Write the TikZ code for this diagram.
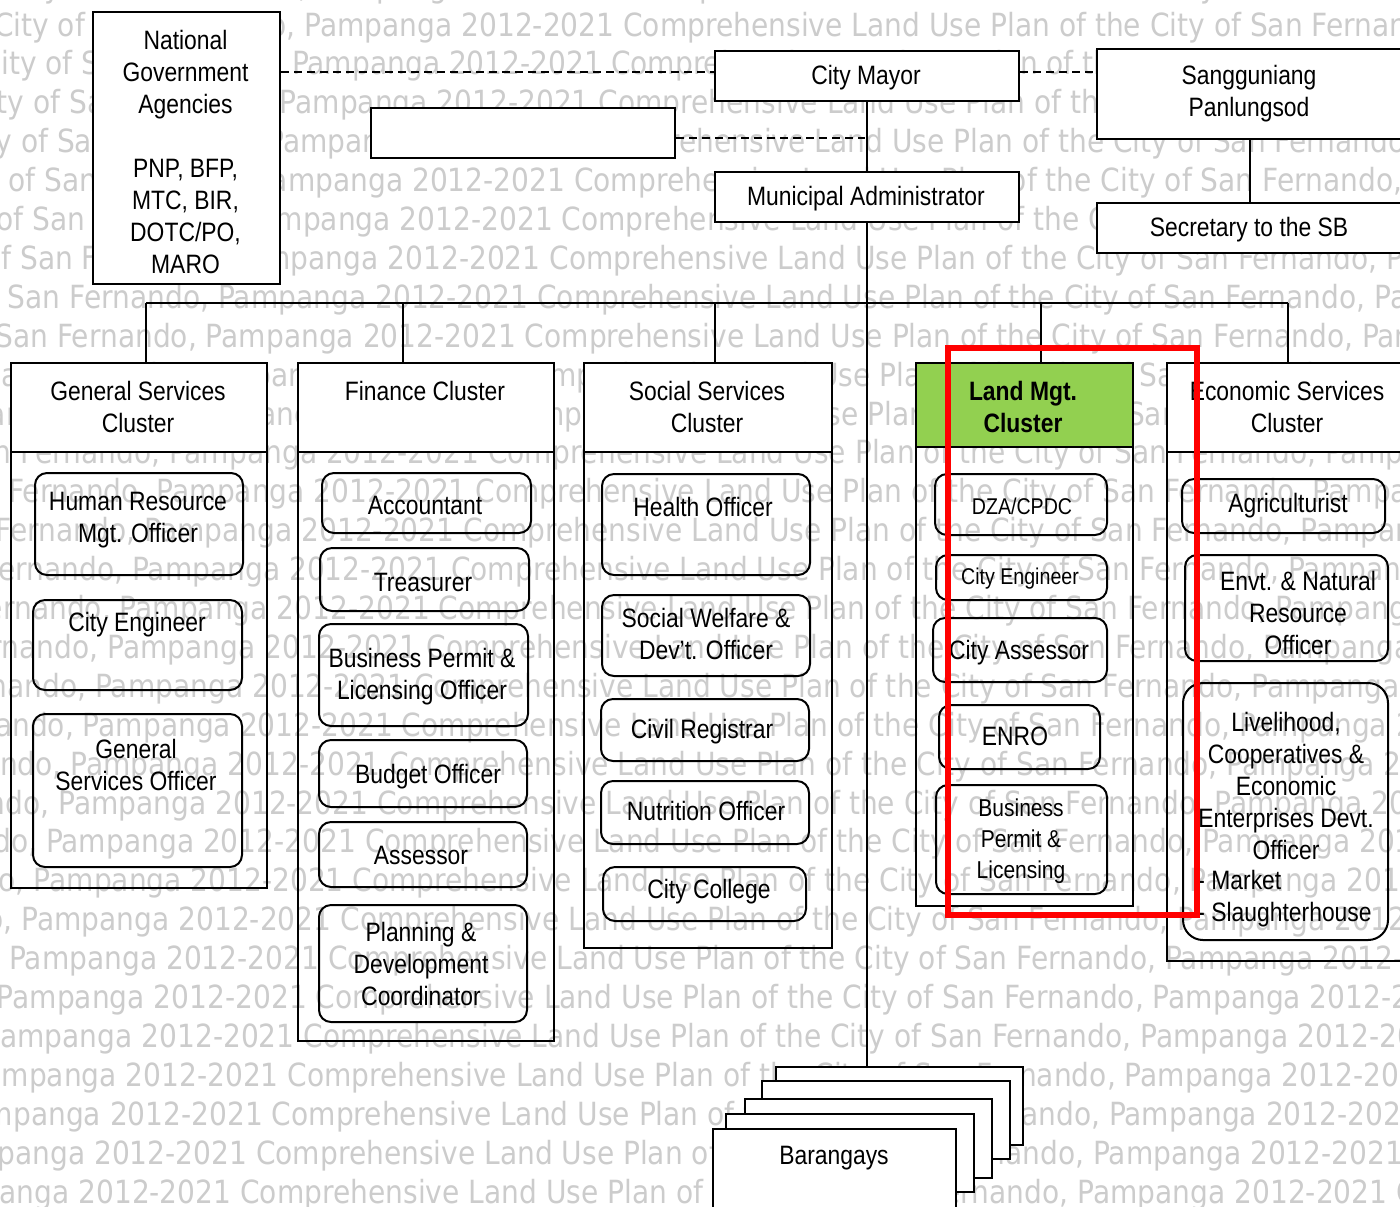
\documentclass[tikz,border=0pt]{standalone}
\usepackage{fontspec}
\setmainfont{Liberation Sans}[FakeStretch=0.86]
\newfontfamily\wmfont{DejaVu Sans}[FakeStretch=0.88]
\definecolor{landgreen}{HTML}{92D050}
\definecolor{wmgray}{gray}{0.80}
\newlength\wmP
\newcommand\wmA{2012-2021 Comprehensive Land Use Plan of the City of San Fernando, Pampanga }
\newcommand\bx[6]{%
  \pgfmathsetmacro\bxw{(#5-#3)*0.5}%
  \pgfmathsetmacro\bxh{(#6-#4)*0.5}%
  \node[#1, minimum width=\bxw pt, minimum height=\bxh pt, anchor=north west] (#2) at (#3,#4) {};}
\tikzset{
  topbox/.style={draw, line width=1pt, fill=white, inner sep=0pt, rectangle},
  body/.style={draw, line width=1pt, inner sep=0pt, rectangle},
  headbox/.style={draw, line width=1pt, fill=white, inner sep=0pt, rectangle},
  greenhead/.style={draw, line width=1pt, fill=landgreen, inner sep=0pt, rectangle},
  rbox/.style={draw, line width=1pt, rounded corners=6pt, inner sep=0pt, rectangle},
  rboxbig/.style={draw, line width=1pt, rounded corners=10pt, inner sep=0pt, rectangle},
  txt/.style={align=center, inner sep=0pt, font=\fontsize{13.3pt}{16pt}\selectfont},
  txtb/.style={align=center, inner sep=0pt, font=\fontsize{13.3pt}{16pt}\selectfont\bfseries},
  txts/.style={align=center, inner sep=0pt, font=\fontsize{11.4pt}{14pt}\selectfont},
  txtm/.style={align=center, inner sep=0pt, font=\fontsize{12.2pt}{15.5pt}\selectfont},
  conn/.style={line width=0.8pt},
  dashline/.style={line width=0.8pt, dash pattern=on 4pt off 2.5pt},
  redframe/.style={draw=red, line width=3pt},
  wm/.style={anchor=base west, inner sep=0pt, text=wmgray, font=\fontsize{\wmsize pt}{\wmsize pt}\wmfont},
}
\begin{document}
\settowidth\wmP{\fontsize{10pt}{12pt}\wmfont\wmA}%
\pgfmathsetmacro\wmsize{10*578/\wmP}%
\settowidth\wmP{\fontsize{\wmsize pt}{\wmsize pt}\wmfont\wmA}%
\begin{tikzpicture}[x=0.5pt,y=-0.5pt]
\useasboundingbox (0,0) rectangle (1400,1206);
\clip (0,0) rectangle (1400,1206);
\fill[white] (0,0) rectangle (1400,1206);
% watermark
\foreach \i in {-1,...,30}{
  \pgfmathsetmacro\wx{461-12.3*\i-3.5*max(\i-26,0)}
  \pgfmathsetmacro\wy{36+38.9*\i}
  \node[wm] (wm\i) at ([xshift=-\wmP]\wx,\wy) {\wmA\wmA\wmA};
}
% top boxes
\bx{topbox}{nga}{92}{11}{279}{283}
\node[txt] (ngat) at (185.5,152) {National\\Government\\Agencies\\[16pt]PNP, BFP,\\MTC, BIR,\\DOTC/PO,\\MARO};
\bx{topbox}{blank}{370}{107}{674}{157}
\bx{topbox}{mayor}{714}{50}{1018}{100}
\node[txt] (mayort) at (866,78) {City Mayor};
\bx{topbox}{sang}{1096}{48}{1402}{138}
\node[txt] (sangt) at (1249,94) {Sangguniang\\Panlungsod};
\bx{topbox}{madmin}{714}{171}{1018}{221}
\node[txt] (madmint) at (866,199) {Municipal Administrator};
\bx{topbox}{sec}{1096}{202}{1402}{252}
\node[txt] (sect) at (1249,230) {Secretary to the SB};
% clusters
\bx{body}{gen}{10}{362}{266}{887}
\bx{headbox}{genh}{10}{362}{266}{451}
\node[txt] (gent) at (138,407) {General Services\\Cluster};
\bx{body}{fin}{297}{362}{553}{1040}
\bx{headbox}{finh}{297}{362}{553}{451}
\node[txt] (fint) at (425,391) {Finance Cluster};
\bx{body}{soc}{583}{362}{831}{947}
\bx{headbox}{soch}{583}{362}{831}{451}
\node[txt] (soct) at (707,407) {Social Services\\Cluster};
\bx{body}{land}{915}{362}{1132}{905}
\bx{greenhead}{landh}{915}{362}{1132}{446}
\node[txtb] (landt) at (1023,407) {Land Mgt.\\Cluster};
\bx{body}{eco}{1166}{362}{1402}{960}
\bx{headbox}{ecoh}{1166}{362}{1402}{451}
\node[txt] (ecot) at (1287,407) {Economic Services\\Cluster};
% general services
\bx{rbox}{hr}{34}{472}{242}{574}
\node[txt] (hrt) at (138,520) {Human Resource\\Mgt. Officer};
\bx{rbox}{ceg}{32}{599}{241}{689}
\node[txt] (cegt) at (137,625) {City Engineer};
\bx{rbox}{gso}{32}{713}{241}{866}
\node[txt] (gsot) at (136,765) {General\\Services Officer};
% finance
\bx{rbox}{acc}{321}{472}{530}{532}
\node[txt] (acct) at (425,505) {Accountant};
\bx{rbox}{tre}{319}{547}{528}{610}
\node[txt] (tret) at (423,582) {Treasurer};
\bx{rbox}{bpf}{318}{623}{527}{725}
\node[txt] (bpft) at (422,677) {Business Permit \&\\Licensing Officer};
\bx{rbox}{bud}{318}{739}{526}{806}
\node[txt] (budt) at (428,777) {Budget Officer};
\bx{rbox}{ass}{318}{821}{526}{886}
\node[txt] (asst) at (421,855) {Assessor};
\bx{rbox}{pdc}{318}{904}{526}{1021}
\node[txt] (pdct) at (421,964) {Planning \&\\Development\\Coordinator};
% social
\bx{rbox}{ho}{601}{473}{809}{574}
\node[txt] (hot) at (703,507) {Health Officer};
\bx{rbox}{sw}{601}{594}{809}{675}
\node[txt] (swt) at (706,634) {Social Welfare \&\\Dev't. Officer};
\bx{rbox}{cr}{600}{698}{808}{760}
\node[txt] (crt) at (702,732) {Civil Registrar};
\bx{rbox}{no}{600}{780}{808}{843}
\node[txt] (not) at (706,811) {Nutrition Officer};
\bx{rbox}{cc}{602}{866}{805}{920}
\node[txt] (cct) at (709,892) {City College};
% land mgt
\bx{rbox}{dza}{934}{473}{1106}{534}
\node[txts] (dzat) at (1022,506) {DZA/CPDC};
\bx{rbox}{cel}{935}{554}{1106}{599}
\node[txts] (celt) at (1020,579) {City Engineer};
\bx{rbox}{ca}{932}{617}{1106}{681}
\node[txt] (cat) at (1019,653) {City Assessor};
\bx{rbox}{enro}{938}{704}{1099}{768}
\node[txt] (enrot) at (1015,736) {ENRO};
\bx{rbox}{bpl}{935}{784}{1106}{893}
\node[txtm] (bplt) at (1021,841) {Business\\Permit \&\\Licensing};
% economic
\bx{rbox}{agr}{1181}{478}{1384}{532}
\node[txt] (agrt) at (1288,506) {Agriculturist};
\bx{rbox}{env}{1184}{554}{1387}{660}
\node[txt] (envt) at (1298,613) {Envt. \& Natural\\Resource\\Officer};
\bx{rboxbig}{liv}{1182}{682}{1387}{939}
\node[txt] (livt) at (1286,786) {Livelihood,\\Cooperatives \&\\Economic\\Enterprises Devt.\\Officer};
\node[txt, align=left, anchor=west] (livm) at (1197,899) {- Market\\- Slaughterhouse};
% barangays
\bx{topbox}{brgA}{775}{1066}{1022}{1144}
\bx{topbox}{brgB}{761}{1080}{1009}{1158}
\bx{topbox}{brgC}{744}{1098}{991}{1177}
\bx{topbox}{brgD}{725}{1113}{973}{1191}
\bx{topbox}{brgE}{712}{1128}{955}{1216}
\node[txt] (brgt) at (834,1158) {Barangays};
% connectors
\coordinate (dy) at (0,72);
\coordinate (dj) at (865,138);
\draw[dashline] (nga.east |- dy) -- (mayor.west |- dy);
\draw[dashline] (mayor.east |- dy) -- (sang.west |- dy);
\draw[dashline] (blank.east |- dj) -- (dj);
\draw[conn] (mayor.south) -- (madmin.north);
\draw[conn] (madmin.south) -- (madmin.south |- brgA.north);
\draw[conn] (sang.south) -- (sec.north);
\coordinate (dG) at (146,303);
\coordinate (dF) at (403,303);
\coordinate (dS) at (715,303);
\coordinate (dL) at (1041,303);
\coordinate (dE) at (1288,303);
\draw[conn] (dG) -- (dE);
\draw[conn] (dG) -- (dG |- genh.north);
\draw[conn] (dF) -- (dF |- finh.north);
\draw[conn] (dS) -- (dS |- soch.north);
\draw[conn] (dL) -- (dL |- landh.north);
\draw[conn] (dE) -- (dE |- ecoh.north);
% highlight
\draw[redframe] (948,348) rectangle (1197,915);
\end{tikzpicture}
\end{document}
